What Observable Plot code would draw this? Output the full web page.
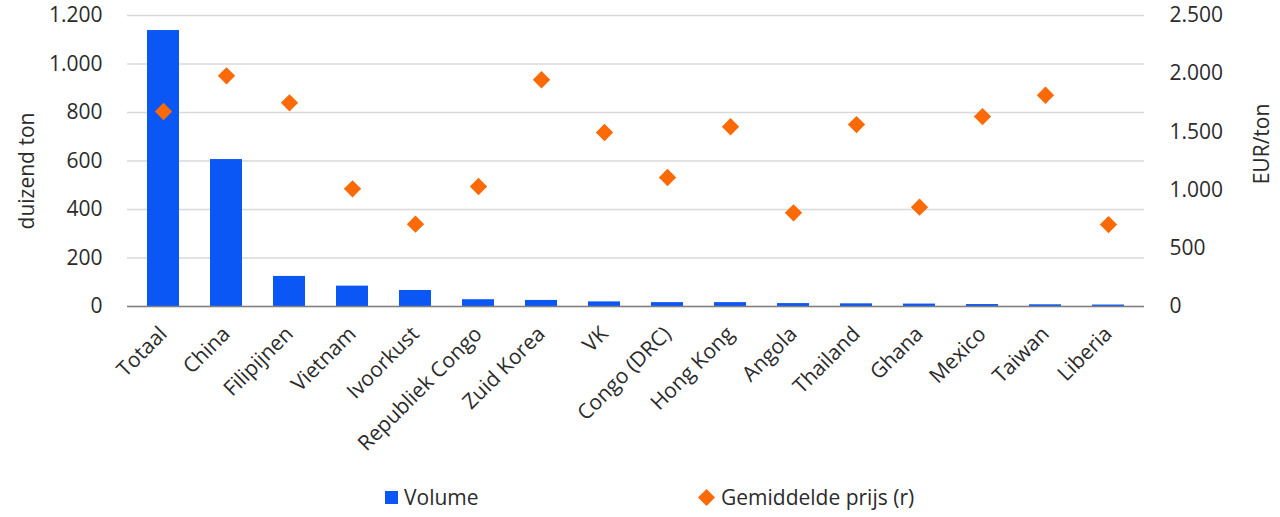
<!DOCTYPE html>
<html>
<head>
<meta charset="utf-8">
<script src="https://cdn.jsdelivr.net/npm/d3@7"></script>
<script src="https://cdn.jsdelivr.net/npm/@observablehq/plot@0.6"></script>
<style>
  body { margin: 0; background: #fff; font-family: "Open Sans", sans-serif; }
  #legend { position: relative; width: 1280px; height: 47px; font-size: 21px; color: #2b2b2b; }
  .item { position: absolute; top: 14px; display: flex; align-items: center; gap: 6px; line-height: 26px; }
</style>
</head>
<body>
<div id="chart"></div>
<div id="legend">
  <div class="item" style="left:385px"><svg width="13" height="13"><rect width="13" height="13" fill="#0a57f5"/></svg><span>Volume</span></div>
  <div class="item" style="left:698px"><svg width="17" height="17"><path d="M8.5 0 L17 8.5 L8.5 17 L0 8.5 Z" fill="#fb6a07"/></svg><span>Gemiddelde prijs (r)</span></div>
</div>
<script>
const categories = ["Totaal","China","Filipijnen","Vietnam","Ivoorkust","Republiek Congo","Zuid Korea","VK","Congo (DRC)","Hong Kong","Angola","Thailand","Ghana","Mexico","Taiwan","Liberia"];
const volume = [1138, 606, 124, 84, 66, 28, 25, 19, 16, 16, 12, 11, 10, 8, 7, 6];
const price = [1675, 1982, 1750, 1011, 707, 1031, 1948, 1495, 1108, 1544, 805, 1563, 853, 1632, 1815, 704];
const leftTicks = [0, 200, 400, 600, 800, 1000, 1200];
const rightTicks = [0, 500, 1000, 1500, 2000, 2500];
const leftTitle = ["duizend ton"];
const rightTitle = ["EUR/ton"];

const leftMax = 1200, rightMax = 2500;
const k = leftMax / rightMax;
const nl = d3.formatLocale({decimal: ",", thousands: ".", grouping: [3], currency: ["€", ""]});
const fmt = nl.format(",");

const data = categories.map((c, i) => ({c, v: volume[i], p: price[i]}));

const chart = Plot.plot({
  width: 1280,
  height: 470,
  marginLeft: 127,
  marginRight: 136,
  marginTop: 15,
  marginBottom: 164,
  style: {fontFamily: "'Open Sans', sans-serif", fontSize: "21px", color: "#2b2b2b", background: "#fff"},
  x: {domain: categories, paddingInner: 0.5, paddingOuter: 0.25},
  y: {domain: [0, leftMax]},
  marks: [
    Plot.gridY(leftTicks, {stroke: "#d9d9d9", strokeOpacity: 1, strokeWidth: 1.5}),
    Plot.barY(data, {x: "c", y: "v", fill: "#0a57f5"}),
    Plot.ruleY([0], {stroke: "#808080", strokeWidth: 1.5}),
    Plot.dot(data, {x: "c", y: d => d.p * k, symbol: "diamond2", r: 7.8, fill: "#fb6a07", stroke: "none"}),
    Plot.axisX({tickRotate: -45, tickSize: 0, tickPadding: 24, label: null}),
    Plot.axisY(leftTicks, {anchor: "left", tickSize: 0, tickPadding: 25, tickFormat: fmt, label: null}),
    Plot.axisY(rightTicks.map(t => t * k), {anchor: "right", tickSize: 0, tickPadding: 25, tickFormat: d => fmt(Math.round(d / k)), label: null}),
    Plot.text(leftTitle, {frameAnchor: "left", textAnchor: "middle", dx: -100, dy: 10, rotate: -90, fontSize: 21, fill: "#2b2b2b"}),
    Plot.text(rightTitle, {frameAnchor: "right", textAnchor: "middle", dx: 118, dy: -17, rotate: -90, fontSize: 21, fill: "#2b2b2b"})
  ]
});
document.getElementById("chart").appendChild(chart);
</script>
</body>
</html>
